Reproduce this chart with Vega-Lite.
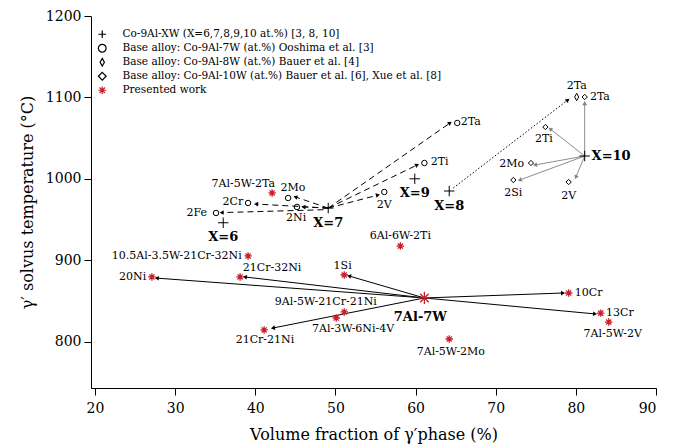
{
  "$schema": "https://vega.github.io/schema/vega-lite/v6.json",
  "width": 565,
  "height": 372,
  "autosize": "none",
  "padding": {"left": 91, "top": 16, "right": 21, "bottom": 60},
  "background": "white",
  "config": {
    "view": {"stroke": null},
    "font": "DejaVu Serif",
    "axis": {"grid": false, "domainColor": "black", "tickColor": "black", "labelColor": "black", "titleColor": "black", "labelFont": "DejaVu Serif", "titleFont": "DejaVu Serif", "labelFontSize": 14, "titleFontSize": 16, "titleFontWeight": "normal", "tickSize": 7, "domainWidth": 1, "tickWidth": 1},
    "legend": {"labelFont": "DejaVu Serif", "labelFontSize": 10, "labelColor": "black", "labelLimit": 600, "symbolSize": 60, "symbolStrokeWidth": 1.2, "rowPadding": 0, "labelOffset": 15, "padding": 0}
  },
  "datasets": {
    "points": [
      {"series": "Co-9Al-XW (X=6,7,8,9,10 at.%) [3, 8, 10]", "name": "X=6", "x": 36.0, "y": 946},
      {"series": "Co-9Al-XW (X=6,7,8,9,10 at.%) [3, 8, 10]", "name": "X=7", "x": 49.1, "y": 964},
      {"series": "Co-9Al-XW (X=6,7,8,9,10 at.%) [3, 8, 10]", "name": "X=9", "x": 59.9, "y": 1000},
      {"series": "Co-9Al-XW (X=6,7,8,9,10 at.%) [3, 8, 10]", "name": "X=8", "x": 64.2, "y": 985},
      {"series": "Co-9Al-XW (X=6,7,8,9,10 at.%) [3, 8, 10]", "name": "X=10", "x": 81.1, "y": 1028},
      {"series": "Base alloy: Co-9Al-7W (at.%) Ooshima et al. [3]", "name": "2Fe", "x": 35.1, "y": 958},
      {"series": "Base alloy: Co-9Al-7W (at.%) Ooshima et al. [3]", "name": "2Cr", "x": 39.1, "y": 970.3},
      {"series": "Base alloy: Co-9Al-7W (at.%) Ooshima et al. [3]", "name": "2Mo", "x": 44.1, "y": 976.4},
      {"series": "Base alloy: Co-9Al-7W (at.%) Ooshima et al. [3]", "name": "2Ni", "x": 45.2, "y": 965.4},
      {"series": "Base alloy: Co-9Al-7W (at.%) Ooshima et al. [3]", "name": "2V", "x": 56.1, "y": 983.8},
      {"series": "Base alloy: Co-9Al-7W (at.%) Ooshima et al. [3]", "name": "2Ti", "x": 61.1, "y": 1019.4},
      {"series": "Base alloy: Co-9Al-7W (at.%) Ooshima et al. [3]", "name": "2Ta", "x": 65.2, "y": 1068.6},
      {"series": "Base alloy: Co-9Al-8W (at.%) Bauer et al. [4]", "name": "2Ta", "x": 80.1, "y": 1100.5},
      {"series": "Base alloy: Co-9Al-10W (at.%) Bauer et al. [6], Xue et al. [8]", "name": "2Ta", "x": 81.1, "y": 1100.5},
      {"series": "Base alloy: Co-9Al-10W (at.%) Bauer et al. [6], Xue et al. [8]", "name": "2Ti", "x": 76.2, "y": 1063.6},
      {"series": "Base alloy: Co-9Al-10W (at.%) Bauer et al. [6], Xue et al. [8]", "name": "2Mo", "x": 74.4, "y": 1019.4},
      {"series": "Base alloy: Co-9Al-10W (at.%) Bauer et al. [6], Xue et al. [8]", "name": "2Si", "x": 72.2, "y": 998.5},
      {"series": "Base alloy: Co-9Al-10W (at.%) Bauer et al. [6], Xue et al. [8]", "name": "2V", "x": 79.1, "y": 996},
      {"series": "Presented work", "name": "7Al-5W-2Ta", "x": 42.1, "y": 982.6},
      {"series": "Presented work", "name": "10.5Al-3.5W-21Cr-32Ni", "x": 39.1, "y": 905.2},
      {"series": "Presented work", "name": "21Cr-32Ni", "x": 38.1, "y": 879.4},
      {"series": "Presented work", "name": "20Ni", "x": 27.1, "y": 879.4},
      {"series": "Presented work", "name": "21Cr-21Ni", "x": 41.1, "y": 814.3},
      {"series": "Presented work", "name": "9Al-5W-21Cr-21Ni", "x": 51.1, "y": 836.4},
      {"series": "Presented work", "name": "7Al-3W-6Ni-4V", "x": 50.1, "y": 829},
      {"series": "Presented work", "name": "1Si", "x": 51.1, "y": 881.8},
      {"series": "Presented work", "name": "6Al-6W-2Ti", "x": 58.1, "y": 917.4},
      {"series": "Presented work", "name": "10Cr", "x": 79.1, "y": 859.7},
      {"series": "Presented work", "name": "13Cr", "x": 83.1, "y": 835},
      {"series": "Presented work", "name": "7Al-5W-2V", "x": 84.1, "y": 824},
      {"series": "Presented work", "name": "7Al-5W-2Mo", "x": 64.2, "y": 803.2}
    ],
    "main": [
      {"name": "7Al-7W", "x": 61.1, "y": 853.6}
    ],
    "arrows": [
      {"kind": "dashed", "x": 48.5, "y": 962, "x2": 35.8, "y2": 958.5},
      {"kind": "dashed", "x": 49.1, "y": 964, "x2": 40.1, "y2": 969},
      {"kind": "dashed", "x": 49.1, "y": 964, "x2": 45.0, "y2": 977.7},
      {"kind": "dashed", "x": 49.1, "y": 964, "x2": 46.0, "y2": 965.4},
      {"kind": "dashed", "x": 49.1, "y": 964, "x2": 55.3, "y2": 980},
      {"kind": "dashed", "x": 49.1, "y": 964, "x2": 60.2, "y2": 1017},
      {"kind": "dashed", "x": 49.1, "y": 964, "x2": 64.3, "y2": 1068.6},
      {"kind": "dotted", "x": 64.7, "y": 988.7, "x2": 79.0, "y2": 1096.8},
      {"kind": "gray", "x": 81.1, "y": 1028, "x2": 81.1, "y2": 1093},
      {"kind": "gray", "x": 81.1, "y": 1028, "x2": 76.8, "y2": 1061.2},
      {"kind": "gray", "x": 81.1, "y": 1028, "x2": 74.9, "y2": 1017},
      {"kind": "gray", "x": 81.1, "y": 1028, "x2": 73.0, "y2": 998.5},
      {"kind": "gray", "x": 81.1, "y": 1028, "x2": 80.0, "y2": 1002},
      {"kind": "black", "x": 61.1, "y": 853.6, "x2": 27.7, "y2": 878},
      {"kind": "black", "x": 61.1, "y": 853.6, "x2": 38.7, "y2": 879.4},
      {"kind": "black", "x": 61.1, "y": 853.6, "x2": 42.2, "y2": 816.7},
      {"kind": "black", "x": 61.1, "y": 853.6, "x2": 51.7, "y2": 880.6},
      {"kind": "black", "x": 61.1, "y": 853.6, "x2": 78.4, "y2": 859.7},
      {"kind": "black", "x": 61.1, "y": 853.6, "x2": 82.4, "y2": 834}
    ],
    "labels": [
      {"text": "2Fe", "x": 32.7, "y": 958},
      {"text": "2Cr", "x": 37.2, "y": 971.5},
      {"text": "2Mo", "x": 44.7, "y": 988.7},
      {"text": "2Ni", "x": 45.1, "y": 951.8},
      {"text": "7Al-5W-2Ta", "x": 38.5, "y": 993.6},
      {"text": "2V", "x": 56.1, "y": 967.8},
      {"text": "2Ti", "x": 63.0, "y": 1020.6},
      {"text": "2Ta", "x": 66.9, "y": 1069.8},
      {"text": "2Ta", "x": 80.1, "y": 1114},
      {"text": "2Ta", "x": 83.0, "y": 1100.5},
      {"text": "2Ti", "x": 76.0, "y": 1048.9},
      {"text": "2Mo", "x": 72.0, "y": 1018.2},
      {"text": "2Si", "x": 72.2, "y": 982.6},
      {"text": "2V", "x": 79.1, "y": 978.9},
      {"text": "10.5Al-3.5W-21Cr-32Ni", "x": 30.2, "y": 905.2},
      {"text": "21Cr-32Ni", "x": 42.1, "y": 890.4},
      {"text": "20Ni", "x": 24.7, "y": 879.4},
      {"text": "21Cr-21Ni", "x": 41.2, "y": 802},
      {"text": "9Al-5W-21Cr-21Ni", "x": 48.8, "y": 848.6},
      {"text": "7Al-3W-6Ni-4V", "x": 52.2, "y": 815.5},
      {"text": "1Si", "x": 50.9, "y": 892.9},
      {"text": "6Al-6W-2Ti", "x": 58.1, "y": 929.7},
      {"text": "10Cr", "x": 81.6, "y": 859.7},
      {"text": "13Cr", "x": 85.5, "y": 835},
      {"text": "7Al-5W-2V", "x": 84.6, "y": 809.3},
      {"text": "7Al-5W-2Mo", "x": 64.4, "y": 787.2}
    ],
    "boldLabels": [
      {"text": "X=6", "x": 36.0, "y": 928.5},
      {"text": "X=7", "x": 49.1, "y": 945.7},
      {"text": "X=9", "x": 59.9, "y": 982.6},
      {"text": "X=8", "x": 64.2, "y": 966.6},
      {"text": "X=10", "x": 84.4, "y": 1028},
      {"text": "7Al-7W", "x": 60.6, "y": 830.2}
    ]
  },
  "layer": [
    {
      "data": {"name": "arrows"},
      "transform": [{"filter": "datum.kind === 'dashed'"}],
      "mark": {"type": "rule", "color": "black", "strokeWidth": 1, "strokeDash": [6, 4]},
      "encoding": {
        "x": {"field": "x", "type": "quantitative", "scale": {"domain": [19.5, 90], "nice": false, "zero": false}, "axis": {"values": [20, 30, 40, 50, 60, 70, 80, 90], "format": "d", "title": "Volume fraction of γ′phase (%)", "labelPadding": 6, "titlePadding": 11}},
        "y": {"field": "y", "type": "quantitative", "scale": {"domain": [743, 1200], "nice": false, "zero": false}, "axis": {"values": [800, 900, 1000, 1100, 1200], "format": "d", "title": "γ′ solvus temperature (°C)", "labelPadding": 3, "titlePadding": 10}},
        "x2": {"field": "x2"},
        "y2": {"field": "y2"}
      }
    },
    {
      "data": {"name": "arrows"},
      "transform": [{"filter": "datum.kind === 'dotted'"}],
      "mark": {"type": "rule", "color": "black", "strokeWidth": 1, "strokeDash": [1.5, 2]},
      "encoding": {
        "x": {"field": "x", "type": "quantitative"},
        "y": {"field": "y", "type": "quantitative"},
        "x2": {"field": "x2"},
        "y2": {"field": "y2"}
      }
    },
    {
      "data": {"name": "arrows"},
      "transform": [{"filter": "datum.kind === 'gray'"}],
      "mark": {"type": "rule", "color": "#808080", "strokeWidth": 0.9},
      "encoding": {
        "x": {"field": "x", "type": "quantitative"},
        "y": {"field": "y", "type": "quantitative"},
        "x2": {"field": "x2"},
        "y2": {"field": "y2"}
      }
    },
    {
      "data": {"name": "arrows"},
      "transform": [{"filter": "datum.kind === 'black'"}],
      "mark": {"type": "rule", "color": "black", "strokeWidth": 1},
      "encoding": {
        "x": {"field": "x", "type": "quantitative"},
        "y": {"field": "y", "type": "quantitative"},
        "x2": {"field": "x2"},
        "y2": {"field": "y2"}
      }
    },
    {
      "data": {"name": "arrows"},
      "transform": [
        {"calculate": "atan2((datum.x2-datum.x)*8.014, (datum.y2-datum.y)*0.814)*180/PI", "as": "ang"},
        {"calculate": "datum.kind === 'gray' ? '#808080' : 'black'", "as": "headColor"}
      ],
      "mark": {"type": "point", "shape": "triangle-up", "filled": true, "size": 22, "opacity": 1},
      "encoding": {
        "x": {"field": "x2", "type": "quantitative"},
        "y": {"field": "y2", "type": "quantitative"},
        "angle": {"field": "ang", "type": "quantitative", "scale": null},
        "fill": {"field": "headColor", "type": "nominal", "scale": null}
      }
    },
    {
      "data": {"name": "points"},
      "transform": [{"filter": "datum.series === 'Co-9Al-XW (X=6,7,8,9,10 at.%) [3, 8, 10]'"}],
      "mark": {"type": "point", "filled": false, "strokeWidth": 1, "opacity": 1, "size": 110},
      "encoding": {
        "x": {"field": "x", "type": "quantitative"},
        "y": {"field": "y", "type": "quantitative"},
        "shape": {
          "field": "series", "type": "nominal",
          "scale": {
            "domain": ["Co-9Al-XW (X=6,7,8,9,10 at.%) [3, 8, 10]", "Base alloy: Co-9Al-7W (at.%) Ooshima et al. [3]", "Base alloy: Co-9Al-8W (at.%) Bauer et al. [4]", "Base alloy: Co-9Al-10W (at.%) Bauer et al. [6], Xue et al. [8]", "Presented work"],
            "range": ["M-1,0L1,0M0,-1L0,1", "circle", "M0,-1L0.55,0L0,1L-0.55,0Z", "diamond", "M-1,0L1,0M0,-1L0,1M-0.7,-0.7L0.7,0.7M-0.7,0.7L0.7,-0.7"]
          },
          "legend": {"orient": "none", "legendX": 6, "legendY": 13, "title": null, "labelFont": "DejaVu Serif", "labelFontSize": 10.5, "labelOffset": 15, "rowPadding": 0}
        },
        "stroke": {
          "field": "series", "type": "nominal",
          "scale": {
            "domain": ["Co-9Al-XW (X=6,7,8,9,10 at.%) [3, 8, 10]", "Base alloy: Co-9Al-7W (at.%) Ooshima et al. [3]", "Base alloy: Co-9Al-8W (at.%) Bauer et al. [4]", "Base alloy: Co-9Al-10W (at.%) Bauer et al. [6], Xue et al. [8]", "Presented work"],
            "range": ["black", "black", "black", "black", "#c8202a"]
          },
          "legend": {"orient": "none", "legendX": 6, "legendY": 13, "title": null, "labelFont": "DejaVu Serif", "labelFontSize": 10.5, "labelOffset": 15, "rowPadding": 0}
        }
      }
    },
    {
      "data": {"name": "points"},
      "transform": [{"filter": "datum.series === 'Base alloy: Co-9Al-7W (at.%) Ooshima et al. [3]'"}],
      "mark": {"type": "point", "filled": false, "strokeWidth": 1, "opacity": 1, "size": 30},
      "encoding": {
        "x": {"field": "x", "type": "quantitative"},
        "y": {"field": "y", "type": "quantitative"},
        "shape": {"field": "series", "type": "nominal"},
        "stroke": {"field": "series", "type": "nominal"}
      }
    },
    {
      "data": {"name": "points"},
      "transform": [{"filter": "datum.series === 'Base alloy: Co-9Al-8W (at.%) Bauer et al. [4]'"}],
      "mark": {"type": "point", "filled": false, "strokeWidth": 1, "opacity": 1, "size": 55},
      "encoding": {
        "x": {"field": "x", "type": "quantitative"},
        "y": {"field": "y", "type": "quantitative"},
        "shape": {"field": "series", "type": "nominal"},
        "stroke": {"field": "series", "type": "nominal"}
      }
    },
    {
      "data": {"name": "points"},
      "transform": [{"filter": "datum.series === 'Base alloy: Co-9Al-10W (at.%) Bauer et al. [6], Xue et al. [8]'"}],
      "mark": {"type": "point", "filled": false, "strokeWidth": 1, "opacity": 1, "size": 28},
      "encoding": {
        "x": {"field": "x", "type": "quantitative"},
        "y": {"field": "y", "type": "quantitative"},
        "shape": {"field": "series", "type": "nominal"},
        "stroke": {"field": "series", "type": "nominal"}
      }
    },
    {
      "data": {"name": "points"},
      "transform": [{"filter": "datum.series === 'Presented work'"}],
      "mark": {"type": "point", "filled": false, "strokeWidth": 1.3, "opacity": 1, "size": 55},
      "encoding": {
        "x": {"field": "x", "type": "quantitative"},
        "y": {"field": "y", "type": "quantitative"},
        "shape": {"field": "series", "type": "nominal"},
        "stroke": {"field": "series", "type": "nominal"}
      }
    },
    {
      "data": {"name": "main"},
      "mark": {"type": "point", "filled": false, "shape": "M-1,0L1,0M0,-1L0,1M-0.7,-0.7L0.7,0.7M-0.7,0.7L0.7,-0.7", "size": 150, "stroke": "#c8202a", "strokeWidth": 1.3, "opacity": 1},
      "encoding": {
        "x": {"field": "x", "type": "quantitative"},
        "y": {"field": "y", "type": "quantitative"}
      }
    },
    {
      "data": {"name": "labels"},
      "mark": {"type": "text", "font": "DejaVu Serif", "fontSize": 11, "color": "black", "align": "center", "baseline": "middle"},
      "encoding": {
        "x": {"field": "x", "type": "quantitative"},
        "y": {"field": "y", "type": "quantitative"},
        "text": {"field": "text", "type": "nominal"}
      }
    },
    {
      "data": {"name": "boldLabels"},
      "mark": {"type": "text", "font": "DejaVu Serif", "fontSize": 13, "fontWeight": "bold", "color": "black", "align": "center", "baseline": "middle"},
      "encoding": {
        "x": {"field": "x", "type": "quantitative"},
        "y": {"field": "y", "type": "quantitative"},
        "text": {"field": "text", "type": "nominal"}
      }
    }
  ]
}
